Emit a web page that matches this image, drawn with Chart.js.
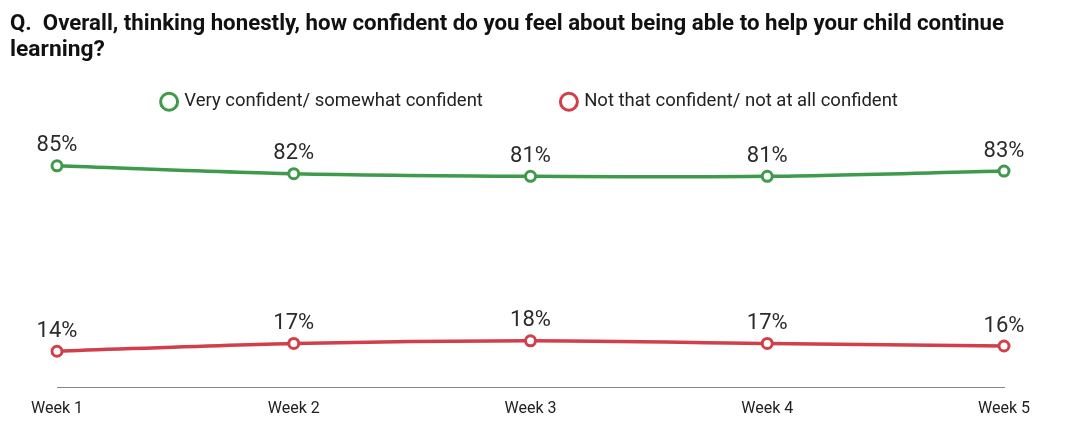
<!DOCTYPE html>
<html>
<head>
<meta charset="utf-8">
<script src="https://cdn.jsdelivr.net/npm/chart.js@4"></script>
<style>
  html, body { margin: 0; padding: 0; background: #fff; }
  #wrap { width: 1067px; height: 432px; }
</style>
</head>
<body>
<div id="wrap"><canvas id="linechart"></canvas></div>
<script>
var weeks = ["Week 1", "Week 2", "Week 3", "Week 4", "Week 5"]
var confident = [85, 82, 81, 81, 83]
var notConfident = [14, 17, 18, 17, 16]
var seriesNames = ["Very confident/ somewhat confident", "Not that confident/ not at all confident"]
var titleLines = [
  "Q.  Overall, thinking honestly, how confident do you feel about being able to help your child continue",
  "learning?"
]

var green = "#3f9a4b"
var red = "#d23f4a"
var fontName = "Roboto, 'Noto Sans', sans-serif"

// draws the "85%" style labels above each point
var valueLabels = {
  id: "valueLabels",
  afterDatasetsDraw(chart) {
    var ctx = chart.ctx
    ctx.save()
    ctx.font = "22px " + fontName
    ctx.fillStyle = "#2b2b2b"
    ctx.textAlign = "center"
    ctx.textBaseline = "middle"
    chart.data.datasets.forEach(function (ds, i) {
      chart.getDatasetMeta(i).data.forEach(function (pt, j) {
        ctx.fillText(ds.data[j] + "%", pt.x, pt.y - 20)
      })
    })
    ctx.restore()
  }
}

new Chart("linechart", {
  type: "line",
  data: {
    labels: weeks,
    datasets: [{
      label: seriesNames[0],
      data: confident,
      borderColor: green,
      backgroundColor: "#fff",
      pointBorderColor: green,
      pointBackgroundColor: "#fff",
      borderWidth: 3.5,
      pointRadius: 5,
      pointBorderWidth: 3,
      tension: 0.3
    }, {
      label: seriesNames[1],
      data: notConfident,
      borderColor: red,
      backgroundColor: "#fff",
      pointBorderColor: red,
      pointBackgroundColor: "#fff",
      borderWidth: 3.5,
      pointRadius: 5,
      pointBorderWidth: 3,
      tension: 0.3
    }]
  },
  options: {
    responsive: true,
    maintainAspectRatio: false,
    animation: false,
    layout: { padding: { left: 10, right: 63, top: 0, bottom: 1 } },
    plugins: {
      title: {
        display: true,
        text: titleLines,
        align: "start",
        color: "#111",
        font: { family: fontName, size: 22.8, weight: "bold", lineHeight: 1.15 },
        padding: { top: 11, bottom: -51 }
      },
      legend: {
        position: "top",
        fullSize: false,
        labels: {
          usePointStyle: true,
          pointStyle: "circle",
          boxWidth: 12,
          boxHeight: 12,
          padding: 80,
          color: "#222",
          font: { family: fontName, size: 18.5 }
        }
      },
      tooltip: { enabled: false }
    },
    scales: {
      x: {
        grid: { display: false, drawTicks: false },
        border: { display: true, color: "#888", width: 1 },
        ticks: { color: "#222", font: { family: fontName, size: 16 }, padding: 12 }
      },
      y: {
        display: true,
        min: 0,
        max: 102.2,
        grid: { display: false, drawTicks: false },
        border: { display: false },
        ticks: { display: false },
        afterFit: function (scale) { scale.width = 47 }
      }
    }
  },
  plugins: [valueLabels]
})
</script>
</body>
</html>
